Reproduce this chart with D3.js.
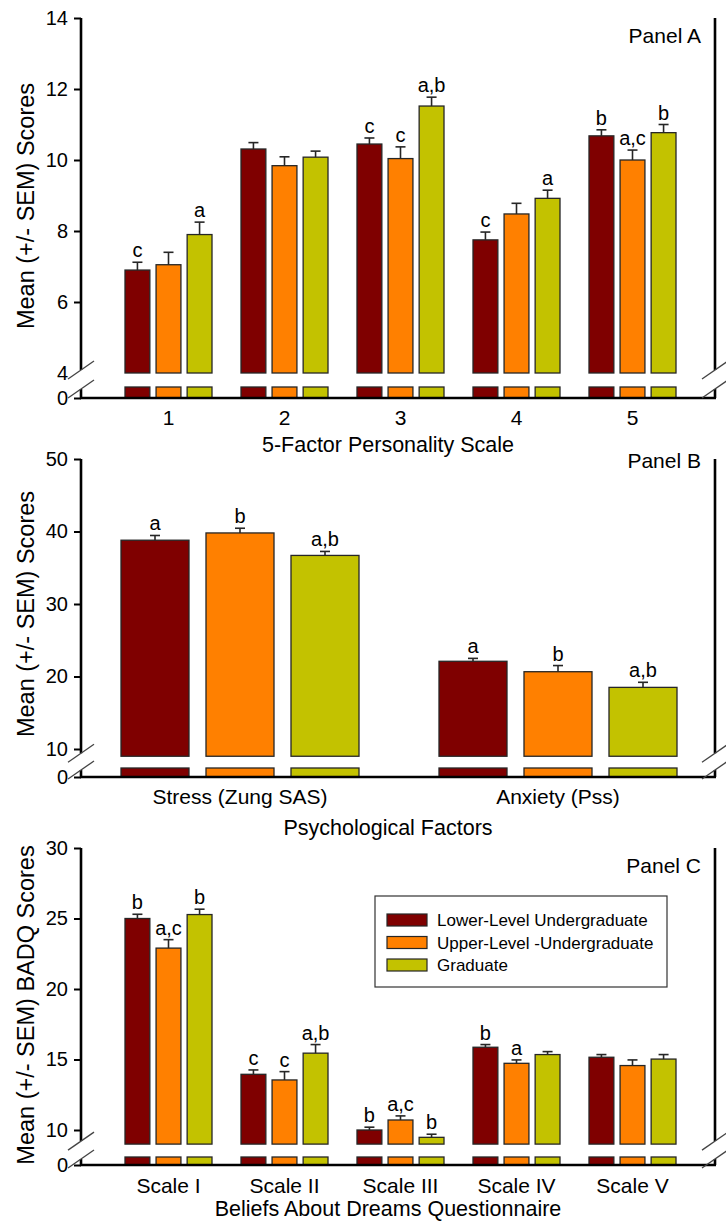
<!DOCTYPE html>
<html>
<head>
<meta charset="utf-8">
<script src="https://cdn.jsdelivr.net/npm/d3@7"></script>
<style>
  body { margin: 0; background: #fff; }
  text { font-family: "Liberation Sans", Arial, sans-serif; fill: #000; }
</style>
</head>
<body>
<svg id="chart" width="726" height="1223"></svg>
<script>
// groups + colours (shared by all three panels)
const groups = ["Lower-Level Undergraduate", "Upper-Level -Undergraduate", "Graduate"];
const groupColors = ["#7f0000", "#ff8000", "#c3c200"];

// Panel A - 5-factor personality scale
const factorLabels = ["1", "2", "3", "4", "5"];
const factorLower = [6.9, 10.31, 10.45, 7.75, 10.68];
const factorUpper = [7.05, 9.84, 10.04, 8.48, 10.0];
const factorGrad = [7.9, 10.08, 11.52, 8.92, 10.77];
const factorLowerSem = [0.22, 0.18, 0.17, 0.22, 0.17];
const factorUpperSem = [0.35, 0.25, 0.33, 0.3, 0.28];
const factorGradSem = [0.35, 0.17, 0.25, 0.23, 0.23];
const factorLowerSig = ["c", "", "c", "c", "b"];
const factorUpperSig = ["", "", "c", "", "a,c"];
const factorGradSig = ["a", "", "a,b", "a", "b"];
const factorTicks = [4, 6, 8, 10, 12, 14];

// Panel B - psychological factors
const psychLabels = ["Stress (Zung SAS)", "Anxiety (Pss)"];
const psychLower = [38.8, 22.1];
const psychUpper = [39.8, 20.66];
const psychGrad = [36.7, 18.5];
const psychLowerSem = [0.65, 0.4];
const psychUpperSem = [0.65, 0.85];
const psychGradSem = [0.55, 0.7];
const psychLowerSig = ["a", "a"];
const psychUpperSig = ["b", "b"];
const psychGradSig = ["a,b", "a,b"];
const psychTicks = [10, 20, 30, 40, 50];

// Panel C - BADQ scales
const badqLabels = ["Scale I", "Scale II", "Scale III", "Scale IV", "Scale V"];
const badqLower = [25.0, 13.95, 10.0, 15.87, 15.16];
const badqUpper = [22.9, 13.55, 10.71, 14.73, 14.57];
const badqGrad = [25.28, 15.45, 9.48, 15.35, 15.03];
const badqLowerSem = [0.3, 0.31, 0.2, 0.19, 0.19];
const badqUpperSem = [0.6, 0.59, 0.29, 0.24, 0.4];
const badqGradSem = [0.38, 0.61, 0.22, 0.21, 0.32];
const badqLowerSig = ["b", "c", "b", "b", ""];
const badqUpperSig = ["a,c", "c", "a,c", "a", ""];
const badqGradSig = ["b", "a,b", "b", "", ""];
const badqTicks = [10, 15, 20, 25, 30];

const svg = d3.select("#chart");
const axisX = 81, rightX = 715;

function drawPanel(o) {
    const g = svg.append("g");
    const y = d3.scaleLinear().domain(o.domain).range(o.yRange);
    const x = d3.scaleBand().domain(o.categories).range(o.xRange);
    const xs = d3.scaleBand().domain(groups).range([0, o.groupWidth]).paddingInner(0.2);

    const slashTop = y(o.floor) - 3;
    const slashBot = o.stubTop + 2;

    // bars
    o.series.forEach(function (s, si) {
        const data = o.categories.map(function (c, i) {
            return { cat: c, v: s.values[i], sem: s.sems[i], sig: s.sigs[i] };
        });
        const bx = function (d) { return x(d.cat) + x.bandwidth() / 2 - o.groupWidth / 2 + xs(groups[si]); };
        const bars = g.append("g");
        bars.selectAll("rect.upper").data(data).enter().append("rect")
            .attr("x", bx)
            .attr("y", function (d) { return y(d.v); })
            .attr("width", xs.bandwidth())
            .attr("height", function (d) { return y(o.floor) - y(d.v); })
            .attr("fill", groupColors[si])
            .attr("stroke", "#262626")
            .attr("stroke-width", 1.3);
        bars.selectAll("rect.stub").data(data).enter().append("rect")
            .attr("x", bx)
            .attr("y", o.stubTop)
            .attr("width", xs.bandwidth())
            .attr("height", o.baseline - o.stubTop)
            .attr("fill", groupColors[si])
            .attr("stroke", "#262626")
            .attr("stroke-width", 1.3);
        // error bars
        bars.selectAll("line.err").data(data).enter().append("line")
            .attr("x1", function (d) { return bx(d) + xs.bandwidth() / 2; })
            .attr("x2", function (d) { return bx(d) + xs.bandwidth() / 2; })
            .attr("y1", function (d) { return y(d.v); })
            .attr("y2", function (d) { return y(d.v + d.sem); })
            .attr("stroke", "#262626").attr("stroke-width", 1.6);
        bars.selectAll("line.cap").data(data).enter().append("line")
            .attr("x1", function (d) { return bx(d) + xs.bandwidth() / 2 - 5; })
            .attr("x2", function (d) { return bx(d) + xs.bandwidth() / 2 + 5; })
            .attr("y1", function (d) { return y(d.v + d.sem); })
            .attr("y2", function (d) { return y(d.v + d.sem); })
            .attr("stroke", "#262626").attr("stroke-width", 1.6);
        bars.selectAll("text.sig").data(data).enter().append("text")
            .attr("x", function (d) { return bx(d) + xs.bandwidth() / 2; })
            .attr("y", function (d) { return y(d.v + d.sem) - 5; })
            .attr("text-anchor", "middle")
            .attr("font-size", 20)
            .text(function (d) { return d.sig; });
    });

    // y axis ticks
    const ax = g.append("g").attr("transform", "translate(" + axisX + ",0)")
        .call(d3.axisLeft(y).tickValues(o.ticks).tickSize(7).tickPadding(6).tickFormat(d3.format("d")));
    ax.select(".domain").remove();
    ax.selectAll(".tick line").attr("stroke", "#000").attr("stroke-width", 2)
        .filter(function (d) { return y(d) > slashTop - 1; }).remove();
    ax.selectAll(".tick text").attr("font-size", 20).attr("font-family", null);

    const zero = d3.scaleLinear().domain([0, 1]).range([o.baseline, o.stubTop]);
    const az = g.append("g").attr("transform", "translate(" + axisX + ",0)")
        .call(d3.axisLeft(zero).tickValues([0]).tickSize(7).tickPadding(6).tickFormat(d3.format("d")));
    az.select(".domain").remove();
    az.selectAll(".tick line").attr("stroke", "#000").attr("stroke-width", 2);
    az.selectAll(".tick text").attr("font-size", 20).attr("font-family", null);

    // frame lines with breaks
    const frame = [
        [axisX, o.yRange[1], axisX, slashTop],
        [axisX, slashBot, axisX, o.baseline],
        [rightX, o.yRange[1], rightX, slashTop],
        [rightX, slashBot, rightX, o.baseline],
        [axisX - 1, o.baseline, rightX + 1, o.baseline]
    ];
    g.selectAll("line.frame").data(frame).enter().append("line")
        .attr("x1", function (d) { return d[0]; }).attr("y1", function (d) { return d[1]; })
        .attr("x2", function (d) { return d[2]; }).attr("y2", function (d) { return d[3]; })
        .attr("stroke", "#000").attr("stroke-width", 2.6);

    [axisX, rightX].forEach(function (cx) {
        [slashTop, slashBot].forEach(function (cy) {
            g.append("line")
                .attr("x1", cx - 13).attr("y1", cy + 9)
                .attr("x2", cx + 13).attr("y2", cy - 9)
                .attr("stroke", "#444").attr("stroke-width", 1.3);
        });
    });

    // category labels
    g.selectAll("text.cat").data(o.categories).enter().append("text")
        .attr("x", function (d) { return x(d) + x.bandwidth() / 2; })
        .attr("y", o.catY)
        .attr("text-anchor", "middle")
        .attr("font-size", 21)
        .text(function (d) { return d; });

    g.append("text").attr("x", 388).attr("y", o.xTitleY)
        .attr("text-anchor", "middle").attr("font-size", 21.5).text(o.xTitle);

    g.append("text")
        .attr("transform", "translate(34," + o.yTitleY + ") rotate(-90)")
        .attr("text-anchor", "middle").attr("font-size", 23.5).text(o.yTitle);

    g.append("text").attr("x", 701).attr("y", o.panelY)
        .attr("text-anchor", "end").attr("font-size", 21).text(o.panel);
}

drawPanel({
    categories: factorLabels,
    series: [
        { values: factorLower, sems: factorLowerSem, sigs: factorLowerSig },
        { values: factorUpper, sems: factorUpperSem, sigs: factorUpperSig },
        { values: factorGrad, sems: factorGradSem, sigs: factorGradSig }
    ],
    ticks: factorTicks, domain: [4, 14], yRange: [373, 18], floor: 4,
    stubTop: 387, baseline: 398,
    xRange: [110.5, 690.5], groupWidth: 87,
    catY: 425, xTitle: "5-Factor Personality Scale", xTitleY: 452,
    yTitle: "Mean (+/- SEM) Scores", yTitleY: 206,
    panel: "Panel A", panelY: 43
});

drawPanel({
    categories: psychLabels,
    series: [
        { values: psychLower, sems: psychLowerSem, sigs: psychLowerSig },
        { values: psychUpper, sems: psychUpperSem, sigs: psychUpperSig },
        { values: psychGrad, sems: psychGradSem, sigs: psychGradSig }
    ],
    ticks: psychTicks, domain: [10, 50], yRange: [749, 459], floor: 9,
    stubTop: 768, baseline: 777,
    xRange: [81, 717], groupWidth: 238,
    catY: 804, xTitle: "Psychological Factors", xTitleY: 835,
    yTitle: "Mean (+/- SEM) Scores", yTitleY: 614,
    panel: "Panel B", panelY: 468
});

drawPanel({
    categories: badqLabels,
    series: [
        { values: badqLower, sems: badqLowerSem, sigs: badqLowerSig },
        { values: badqUpper, sems: badqUpperSem, sigs: badqUpperSig },
        { values: badqGrad, sems: badqGradSem, sigs: badqGradSig }
    ],
    ticks: badqTicks, domain: [10, 30], yRange: [1130, 848], floor: 9,
    stubTop: 1157, baseline: 1165,
    xRange: [110.5, 690.5], groupWidth: 87,
    catY: 1193, xTitle: "Beliefs About Dreams Questionnaire", xTitleY: 1216,
    yTitle: "Mean (+/- SEM) BADQ Scores", yTitleY: 1005,
    panel: "Panel C", panelY: 873
});

// legend (panel C)
const legend = svg.append("g").attr("transform", "translate(375,896)");
legend.append("rect").attr("width", 292).attr("height", 91)
    .attr("fill", "#fff").attr("stroke", "#333").attr("stroke-width", 1.2);
const rows = legend.selectAll("g.row").data(groups).enter().append("g")
    .attr("transform", function (d, i) { return "translate(12," + (18 + i * 22.5) + ")"; });
rows.append("rect").attr("width", 40).attr("height", 12)
    .attr("fill", function (d, i) { return groupColors[i]; })
    .attr("stroke", "#262626").attr("stroke-width", 1.2);
rows.append("text").attr("x", 50).attr("y", 12).attr("font-size", 17)
    .text(function (d) { return d; });
</script>
</body>
</html>
